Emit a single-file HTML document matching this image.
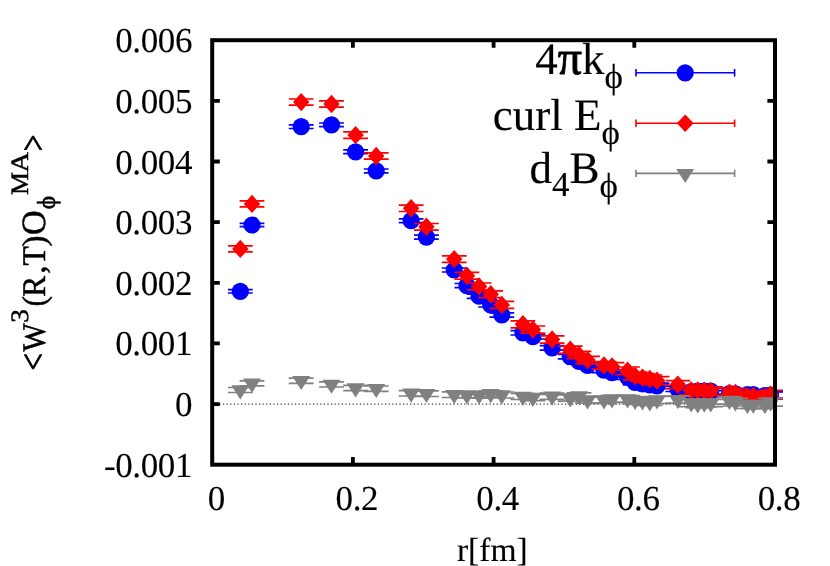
<!DOCTYPE html>
<html><head><meta charset="utf-8"><title>plot</title>
<style>html,body{margin:0;padding:0;background:#fff;}body{width:830px;height:566px;overflow:hidden;position:relative;font-family:"Liberation Serif",serif;}</style></head>
<body>
<svg width="830" height="566" viewBox="0 0 830 566" style="position:absolute;left:0;top:0;will-change:transform" font-family="'Liberation Serif', serif" fill="#000">
<style>text{text-rendering:geometricPrecision;stroke:#000;stroke-width:0.12px;stroke-linejoin:round}</style>
<rect width="830" height="566" fill="#fff"/>
<path d="M212.2 404.1H775.0" stroke="#000" stroke-width="1" stroke-dasharray="1.2 2.4" fill="none"/>
<path d="M352.9 464.7v-7.6M352.9 40.2v7.6M493.6 464.7v-7.6M493.6 40.2v7.6M634.3 464.7v-7.6M634.3 40.2v7.6M212.2 404.1h7.6M775.0 404.1h-7.6M212.2 343.4h7.6M775.0 343.4h-7.6M212.2 282.8h7.6M775.0 282.8h-7.6M212.2 222.1h7.6M775.0 222.1h-7.6M212.2 161.5h7.6M775.0 161.5h-7.6M212.2 100.8h7.6M775.0 100.8h-7.6" stroke="#000" stroke-width="3.8" fill="none"/>
<path d="M227.9 289.6H252.7M227.9 293.0H252.7M240.3 289.6V293.0" stroke="#0000ff" stroke-width="1.7" fill="none"/>
<circle cx="240.3" cy="291.3" r="8.6" fill="#0000ff"/>
<path d="M239.6 223.3H264.4M239.6 226.7H264.4M252.0 223.3V226.7" stroke="#0000ff" stroke-width="1.7" fill="none"/>
<circle cx="252.0" cy="225.0" r="8.6" fill="#0000ff"/>
<path d="M288.8 124.9H313.6M288.8 128.5H313.6M301.2 124.9V128.5" stroke="#0000ff" stroke-width="1.7" fill="none"/>
<circle cx="301.2" cy="126.7" r="8.6" fill="#0000ff"/>
<path d="M319.1 123.0H343.9M319.1 126.6H343.9M331.5 123.0V126.6" stroke="#0000ff" stroke-width="1.7" fill="none"/>
<circle cx="331.5" cy="124.8" r="8.6" fill="#0000ff"/>
<path d="M343.2 149.9H368.0M343.2 153.7H368.0M355.6 149.9V153.7" stroke="#0000ff" stroke-width="1.7" fill="none"/>
<circle cx="355.6" cy="151.8" r="8.6" fill="#0000ff"/>
<path d="M363.8 169.0H388.6M363.8 172.8H388.6M376.2 169.0V172.8" stroke="#0000ff" stroke-width="1.7" fill="none"/>
<circle cx="376.2" cy="170.9" r="8.6" fill="#0000ff"/>
<path d="M398.7 218.8H423.5M398.7 222.6H423.5M411.1 218.8V222.6" stroke="#0000ff" stroke-width="1.7" fill="none"/>
<circle cx="411.1" cy="220.7" r="8.6" fill="#0000ff"/>
<path d="M414.0 235.1H438.8M414.0 239.1H438.8M426.4 235.1V239.1" stroke="#0000ff" stroke-width="1.7" fill="none"/>
<circle cx="426.4" cy="237.1" r="8.6" fill="#0000ff"/>
<path d="M441.8 268.0H466.6M441.8 272.0H466.6M454.2 268.0V272.0" stroke="#0000ff" stroke-width="1.7" fill="none"/>
<circle cx="454.2" cy="270.0" r="8.6" fill="#0000ff"/>
<path d="M454.5 283.5H479.3M454.5 287.7H479.3M466.9 283.5V287.7" stroke="#0000ff" stroke-width="1.7" fill="none"/>
<circle cx="466.9" cy="285.6" r="8.6" fill="#0000ff"/>
<path d="M466.7 294.1H491.5M466.7 298.3H491.5M479.1 294.1V298.3" stroke="#0000ff" stroke-width="1.7" fill="none"/>
<circle cx="479.1" cy="296.2" r="8.6" fill="#0000ff"/>
<path d="M478.3 302.8H503.1M478.3 307.0H503.1M490.7 302.8V307.0" stroke="#0000ff" stroke-width="1.7" fill="none"/>
<circle cx="490.7" cy="304.9" r="8.6" fill="#0000ff"/>
<path d="M489.4 312.8H514.2M489.4 317.2H514.2M501.8 312.8V317.2" stroke="#0000ff" stroke-width="1.7" fill="none"/>
<circle cx="501.8" cy="315.0" r="8.6" fill="#0000ff"/>
<path d="M510.5 330.6H535.3M510.5 335.0H535.3M522.9 330.6V335.0" stroke="#0000ff" stroke-width="1.7" fill="none"/>
<circle cx="522.9" cy="332.8" r="8.6" fill="#0000ff"/>
<path d="M520.5 334.4H545.3M520.5 339.0H545.3M532.9 334.4V339.0" stroke="#0000ff" stroke-width="1.7" fill="none"/>
<circle cx="532.9" cy="336.7" r="8.6" fill="#0000ff"/>
<path d="M539.7 345.6H564.5M539.7 350.2H564.5M552.1 345.6V350.2" stroke="#0000ff" stroke-width="1.7" fill="none"/>
<circle cx="552.1" cy="347.9" r="8.6" fill="#0000ff"/>
<path d="M557.8 354.3H582.6M557.8 358.9H582.6M570.2 354.3V358.9" stroke="#0000ff" stroke-width="1.7" fill="none"/>
<circle cx="570.2" cy="356.6" r="8.6" fill="#0000ff"/>
<path d="M566.6 359.1H591.4M566.6 363.9H591.4M579.0 359.1V363.9" stroke="#0000ff" stroke-width="1.7" fill="none"/>
<circle cx="579.0" cy="361.5" r="8.6" fill="#0000ff"/>
<path d="M575.1 363.0H599.9M575.1 367.8H599.9M587.5 363.0V367.8" stroke="#0000ff" stroke-width="1.7" fill="none"/>
<circle cx="587.5" cy="365.4" r="8.6" fill="#0000ff"/>
<path d="M591.6 367.7H616.4M591.6 372.7H616.4M604.0 367.7V372.7" stroke="#0000ff" stroke-width="1.7" fill="none"/>
<circle cx="604.0" cy="370.2" r="8.6" fill="#0000ff"/>
<path d="M599.6 370.1H624.4M599.6 375.1H624.4M612.0 370.1V375.1" stroke="#0000ff" stroke-width="1.7" fill="none"/>
<circle cx="612.0" cy="372.6" r="8.6" fill="#0000ff"/>
<path d="M615.1 374.5H639.9M615.1 379.5H639.9M627.5 374.5V379.5" stroke="#0000ff" stroke-width="1.7" fill="none"/>
<circle cx="627.5" cy="377.0" r="8.6" fill="#0000ff"/>
<path d="M622.7 379.7H647.5M622.7 384.9H647.5M635.1 379.7V384.9" stroke="#0000ff" stroke-width="1.7" fill="none"/>
<circle cx="635.1" cy="382.3" r="8.6" fill="#0000ff"/>
<path d="M630.1 381.2H654.9M630.1 386.4H654.9M642.5 381.2V386.4" stroke="#0000ff" stroke-width="1.7" fill="none"/>
<circle cx="642.5" cy="383.8" r="8.6" fill="#0000ff"/>
<path d="M637.4 382.1H662.2M637.4 387.5H662.2M649.8 382.1V387.5" stroke="#0000ff" stroke-width="1.7" fill="none"/>
<circle cx="649.8" cy="384.8" r="8.6" fill="#0000ff"/>
<path d="M644.6 383.1H669.4M644.6 388.5H669.4M657.0 383.1V388.5" stroke="#0000ff" stroke-width="1.7" fill="none"/>
<circle cx="657.0" cy="385.8" r="8.6" fill="#0000ff"/>
<path d="M665.4 386.1H690.2M665.4 391.5H690.2M677.8 386.1V391.5" stroke="#0000ff" stroke-width="1.7" fill="none"/>
<circle cx="677.8" cy="388.8" r="8.6" fill="#0000ff"/>
<path d="M678.8 388.7H703.6M678.8 394.3H703.6M691.2 388.7V394.3" stroke="#0000ff" stroke-width="1.7" fill="none"/>
<circle cx="691.2" cy="391.5" r="8.6" fill="#0000ff"/>
<path d="M685.4 388.4H710.2M685.4 394.0H710.2M697.8 388.4V394.0" stroke="#0000ff" stroke-width="1.7" fill="none"/>
<circle cx="697.8" cy="391.2" r="8.6" fill="#0000ff"/>
<path d="M691.9 388.3H716.7M691.9 394.1H716.7M704.3 388.3V394.1" stroke="#0000ff" stroke-width="1.7" fill="none"/>
<circle cx="704.3" cy="391.2" r="8.6" fill="#0000ff"/>
<path d="M698.3 388.3H723.1M698.3 394.1H723.1M710.7 388.3V394.1" stroke="#0000ff" stroke-width="1.7" fill="none"/>
<circle cx="710.7" cy="391.2" r="8.6" fill="#0000ff"/>
<path d="M717.0 390.6H741.8M717.0 396.4H741.8M729.4 390.6V396.4" stroke="#0000ff" stroke-width="1.7" fill="none"/>
<circle cx="729.4" cy="393.5" r="8.6" fill="#0000ff"/>
<path d="M723.0 390.8H747.8M723.0 396.8H747.8M735.4 390.8V396.8" stroke="#0000ff" stroke-width="1.7" fill="none"/>
<circle cx="735.4" cy="393.8" r="8.6" fill="#0000ff"/>
<path d="M735.0 391.5H759.8M735.0 397.5H759.8M747.4 391.5V397.5" stroke="#0000ff" stroke-width="1.7" fill="none"/>
<circle cx="747.4" cy="394.5" r="8.6" fill="#0000ff"/>
<path d="M740.9 391.4H765.7M740.9 397.6H765.7M753.3 391.4V397.6" stroke="#0000ff" stroke-width="1.7" fill="none"/>
<circle cx="753.3" cy="394.5" r="8.6" fill="#0000ff"/>
<path d="M752.5 392.4H777.3M752.5 398.6H777.3M764.9 392.4V398.6" stroke="#0000ff" stroke-width="1.7" fill="none"/>
<circle cx="764.9" cy="395.5" r="8.6" fill="#0000ff"/>
<path d="M758.2 391.9H783.0M758.2 398.1H783.0M770.6 391.9V398.1" stroke="#0000ff" stroke-width="1.7" fill="none"/>
<circle cx="770.6" cy="395.0" r="8.6" fill="#0000ff"/>
<path d="M227.9 245.9H252.7M227.9 251.9H252.7M240.3 245.9V251.9" stroke="#ff0000" stroke-width="1.7" fill="none"/>
<path d="M232.1 248.9L240.3 239.7L248.5 248.9L240.3 258.1Z" fill="#ff0000"/>
<path d="M239.6 200.9H264.4M239.6 206.9H264.4M252.0 200.9V206.9" stroke="#ff0000" stroke-width="1.7" fill="none"/>
<path d="M243.8 203.9L252.0 194.7L260.2 203.9L252.0 213.1Z" fill="#ff0000"/>
<path d="M288.8 99.0H313.6M288.8 105.2H313.6M301.2 99.0V105.2" stroke="#ff0000" stroke-width="1.7" fill="none"/>
<path d="M293.0 102.1L301.2 92.9L309.4 102.1L301.2 111.3Z" fill="#ff0000"/>
<path d="M319.1 100.9H343.9M319.1 107.1H343.9M331.5 100.9V107.1" stroke="#ff0000" stroke-width="1.7" fill="none"/>
<path d="M323.3 104.0L331.5 94.8L339.7 104.0L331.5 113.2Z" fill="#ff0000"/>
<path d="M343.2 131.9H368.0M343.2 138.3H368.0M355.6 131.9V138.3" stroke="#ff0000" stroke-width="1.7" fill="none"/>
<path d="M347.4 135.1L355.6 125.9L363.8 135.1L355.6 144.3Z" fill="#ff0000"/>
<path d="M363.8 152.8H388.6M363.8 159.2H388.6M376.2 152.8V159.2" stroke="#ff0000" stroke-width="1.7" fill="none"/>
<path d="M368.0 156.0L376.2 146.8L384.4 156.0L376.2 165.2Z" fill="#ff0000"/>
<path d="M398.7 205.1H423.5M398.7 211.5H423.5M411.1 205.1V211.5" stroke="#ff0000" stroke-width="1.7" fill="none"/>
<path d="M402.9 208.3L411.1 199.1L419.3 208.3L411.1 217.5Z" fill="#ff0000"/>
<path d="M414.0 223.5H438.8M414.0 230.1H438.8M426.4 223.5V230.1" stroke="#ff0000" stroke-width="1.7" fill="none"/>
<path d="M418.2 226.8L426.4 217.6L434.6 226.8L426.4 236.0Z" fill="#ff0000"/>
<path d="M441.8 255.8H466.6M441.8 262.4H466.6M454.2 255.8V262.4" stroke="#ff0000" stroke-width="1.7" fill="none"/>
<path d="M446.0 259.1L454.2 249.9L462.4 259.1L454.2 268.3Z" fill="#ff0000"/>
<path d="M454.5 272.4H479.3M454.5 279.2H479.3M466.9 272.4V279.2" stroke="#ff0000" stroke-width="1.7" fill="none"/>
<path d="M458.7 275.8L466.9 266.6L475.1 275.8L466.9 285.0Z" fill="#ff0000"/>
<path d="M466.7 283.0H491.5M466.7 289.8H491.5M479.1 283.0V289.8" stroke="#ff0000" stroke-width="1.7" fill="none"/>
<path d="M470.9 286.4L479.1 277.2L487.3 286.4L479.1 295.6Z" fill="#ff0000"/>
<path d="M478.3 290.9H503.1M478.3 297.7H503.1M490.7 290.9V297.7" stroke="#ff0000" stroke-width="1.7" fill="none"/>
<path d="M482.5 294.3L490.7 285.1L498.9 294.3L490.7 303.5Z" fill="#ff0000"/>
<path d="M489.4 301.4H514.2M489.4 308.4H514.2M501.8 301.4V308.4" stroke="#ff0000" stroke-width="1.7" fill="none"/>
<path d="M493.6 304.9L501.8 295.7L510.0 304.9L501.8 314.1Z" fill="#ff0000"/>
<path d="M510.5 320.8H535.3M510.5 327.8H535.3M522.9 320.8V327.8" stroke="#ff0000" stroke-width="1.7" fill="none"/>
<path d="M514.7 324.3L522.9 315.1L531.1 324.3L522.9 333.5Z" fill="#ff0000"/>
<path d="M520.5 326.0H545.3M520.5 333.2H545.3M532.9 326.0V333.2" stroke="#ff0000" stroke-width="1.7" fill="none"/>
<path d="M524.7 329.6L532.9 320.4L541.1 329.6L532.9 338.8Z" fill="#ff0000"/>
<path d="M539.7 335.9H564.5M539.7 343.1H564.5M552.1 335.9V343.1" stroke="#ff0000" stroke-width="1.7" fill="none"/>
<path d="M543.9 339.5L552.1 330.3L560.3 339.5L552.1 348.7Z" fill="#ff0000"/>
<path d="M557.8 346.2H582.6M557.8 353.4H582.6M570.2 346.2V353.4" stroke="#ff0000" stroke-width="1.7" fill="none"/>
<path d="M562.0 349.8L570.2 340.6L578.4 349.8L570.2 359.0Z" fill="#ff0000"/>
<path d="M566.6 351.3H591.4M566.6 358.7H591.4M579.0 351.3V358.7" stroke="#ff0000" stroke-width="1.7" fill="none"/>
<path d="M570.8 355.0L579.0 345.8L587.2 355.0L579.0 364.2Z" fill="#ff0000"/>
<path d="M575.1 356.4H599.9M575.1 363.8H599.9M587.5 356.4V363.8" stroke="#ff0000" stroke-width="1.7" fill="none"/>
<path d="M579.3 360.1L587.5 350.9L595.7 360.1L587.5 369.3Z" fill="#ff0000"/>
<path d="M591.6 361.6H616.4M591.6 369.2H616.4M604.0 361.6V369.2" stroke="#ff0000" stroke-width="1.7" fill="none"/>
<path d="M595.8 365.4L604.0 356.2L612.2 365.4L604.0 374.6Z" fill="#ff0000"/>
<path d="M599.6 362.6H624.4M599.6 370.2H624.4M612.0 362.6V370.2" stroke="#ff0000" stroke-width="1.7" fill="none"/>
<path d="M603.8 366.4L612.0 357.2L620.2 366.4L612.0 375.6Z" fill="#ff0000"/>
<path d="M615.1 367.0H639.9M615.1 374.6H639.9M627.5 367.0V374.6" stroke="#ff0000" stroke-width="1.7" fill="none"/>
<path d="M619.3 370.8L627.5 361.6L635.7 370.8L627.5 380.0Z" fill="#ff0000"/>
<path d="M622.7 372.1H647.5M622.7 379.9H647.5M635.1 372.1V379.9" stroke="#ff0000" stroke-width="1.7" fill="none"/>
<path d="M626.9 376.0L635.1 366.8L643.3 376.0L635.1 385.2Z" fill="#ff0000"/>
<path d="M630.1 373.7H654.9M630.1 381.5H654.9M642.5 373.7V381.5" stroke="#ff0000" stroke-width="1.7" fill="none"/>
<path d="M634.3 377.6L642.5 368.4L650.7 377.6L642.5 386.8Z" fill="#ff0000"/>
<path d="M637.4 375.0H662.2M637.4 383.0H662.2M649.8 375.0V383.0" stroke="#ff0000" stroke-width="1.7" fill="none"/>
<path d="M641.6 379.0L649.8 369.8L658.0 379.0L649.8 388.2Z" fill="#ff0000"/>
<path d="M644.6 376.6H669.4M644.6 384.6H669.4M657.0 376.6V384.6" stroke="#ff0000" stroke-width="1.7" fill="none"/>
<path d="M648.8 380.6L657.0 371.4L665.2 380.6L657.0 389.8Z" fill="#ff0000"/>
<path d="M665.4 380.6H690.2M665.4 388.6H690.2M677.8 380.6V388.6" stroke="#ff0000" stroke-width="1.7" fill="none"/>
<path d="M669.6 384.6L677.8 375.4L686.0 384.6L677.8 393.8Z" fill="#ff0000"/>
<path d="M678.8 386.4H703.6M678.8 394.6H703.6M691.2 386.4V394.6" stroke="#ff0000" stroke-width="1.7" fill="none"/>
<path d="M683.0 390.5L691.2 381.3L699.4 390.5L691.2 399.7Z" fill="#ff0000"/>
<path d="M685.4 386.4H710.2M685.4 394.6H710.2M697.8 386.4V394.6" stroke="#ff0000" stroke-width="1.7" fill="none"/>
<path d="M689.6 390.5L697.8 381.3L706.0 390.5L697.8 399.7Z" fill="#ff0000"/>
<path d="M691.9 386.6H716.7M691.9 395.0H716.7M704.3 386.6V395.0" stroke="#ff0000" stroke-width="1.7" fill="none"/>
<path d="M696.1 390.8L704.3 381.6L712.5 390.8L704.3 400.0Z" fill="#ff0000"/>
<path d="M698.3 386.8H723.1M698.3 395.2H723.1M710.7 386.8V395.2" stroke="#ff0000" stroke-width="1.7" fill="none"/>
<path d="M702.5 391.0L710.7 381.8L718.9 391.0L710.7 400.2Z" fill="#ff0000"/>
<path d="M717.0 388.5H741.8M717.0 396.9H741.8M729.4 388.5V396.9" stroke="#ff0000" stroke-width="1.7" fill="none"/>
<path d="M721.2 392.7L729.4 383.5L737.6 392.7L729.4 401.9Z" fill="#ff0000"/>
<path d="M723.0 388.7H747.8M723.0 397.3H747.8M735.4 388.7V397.3" stroke="#ff0000" stroke-width="1.7" fill="none"/>
<path d="M727.2 393.0L735.4 383.8L743.6 393.0L735.4 402.2Z" fill="#ff0000"/>
<path d="M735.0 392.1H759.8M735.0 400.7H759.8M747.4 392.1V400.7" stroke="#ff0000" stroke-width="1.7" fill="none"/>
<path d="M739.2 396.4L747.4 387.2L755.6 396.4L747.4 405.6Z" fill="#ff0000"/>
<path d="M740.9 391.6H765.7M740.9 400.4H765.7M753.3 391.6V400.4" stroke="#ff0000" stroke-width="1.7" fill="none"/>
<path d="M745.1 396.0L753.3 386.8L761.5 396.0L753.3 405.2Z" fill="#ff0000"/>
<path d="M752.5 392.6H777.3M752.5 401.4H777.3M764.9 392.6V401.4" stroke="#ff0000" stroke-width="1.7" fill="none"/>
<path d="M756.7 397.0L764.9 387.8L773.1 397.0L764.9 406.2Z" fill="#ff0000"/>
<path d="M758.2 390.3H783.0M758.2 399.1H783.0M770.6 390.3V399.1" stroke="#ff0000" stroke-width="1.7" fill="none"/>
<path d="M762.4 394.7L770.6 385.5L778.8 394.7L770.6 403.9Z" fill="#ff0000"/>
<path d="M227.9 387.5H252.7M227.9 392.5H252.7M240.3 387.5V392.5" stroke="#808080" stroke-width="1.7" fill="none"/>
<path d="M231.3 385.3H249.3L240.3 399.4Z" fill="#808080"/>
<path d="M239.6 380.8H264.4M239.6 385.8H264.4M252.0 380.8V385.8" stroke="#808080" stroke-width="1.7" fill="none"/>
<path d="M243.0 378.6H261.0L252.0 392.7Z" fill="#808080"/>
<path d="M288.8 378.1H313.6M288.8 383.3H313.6M301.2 378.1V383.3" stroke="#808080" stroke-width="1.7" fill="none"/>
<path d="M292.2 376.0H310.2L301.2 390.1Z" fill="#808080"/>
<path d="M319.1 381.8H343.9M319.1 387.0H343.9M331.5 381.8V387.0" stroke="#808080" stroke-width="1.7" fill="none"/>
<path d="M322.5 379.7H340.5L331.5 393.8Z" fill="#808080"/>
<path d="M343.2 385.3H368.0M343.2 390.7H368.0M355.6 385.3V390.7" stroke="#808080" stroke-width="1.7" fill="none"/>
<path d="M346.6 383.3H364.6L355.6 397.4Z" fill="#808080"/>
<path d="M363.8 386.0H388.6M363.8 391.4H388.6M376.2 386.0V391.4" stroke="#808080" stroke-width="1.7" fill="none"/>
<path d="M367.2 384.0H385.2L376.2 398.1Z" fill="#808080"/>
<path d="M398.7 390.6H423.5M398.7 396.0H423.5M411.1 390.6V396.0" stroke="#808080" stroke-width="1.7" fill="none"/>
<path d="M402.1 388.6H420.1L411.1 402.7Z" fill="#808080"/>
<path d="M414.0 390.9H438.8M414.0 396.5H438.8M426.4 390.9V396.5" stroke="#808080" stroke-width="1.7" fill="none"/>
<path d="M417.4 389.0H435.4L426.4 403.1Z" fill="#808080"/>
<path d="M441.8 391.9H466.6M441.8 397.5H466.6M454.2 391.9V397.5" stroke="#808080" stroke-width="1.7" fill="none"/>
<path d="M445.2 390.0H463.2L454.2 404.1Z" fill="#808080"/>
<path d="M454.5 392.1H479.3M454.5 397.9H479.3M466.9 392.1V397.9" stroke="#808080" stroke-width="1.7" fill="none"/>
<path d="M457.9 390.3H475.9L466.9 404.4Z" fill="#808080"/>
<path d="M466.7 392.3H491.5M466.7 398.1H491.5M479.1 392.3V398.1" stroke="#808080" stroke-width="1.7" fill="none"/>
<path d="M470.1 390.5H488.1L479.1 404.6Z" fill="#808080"/>
<path d="M478.3 390.9H503.1M478.3 396.7H503.1M490.7 390.9V396.7" stroke="#808080" stroke-width="1.7" fill="none"/>
<path d="M481.7 389.1H499.7L490.7 403.2Z" fill="#808080"/>
<path d="M489.4 392.0H514.2M489.4 398.0H514.2M501.8 392.0V398.0" stroke="#808080" stroke-width="1.7" fill="none"/>
<path d="M492.8 390.3H510.8L501.8 404.4Z" fill="#808080"/>
<path d="M510.5 393.5H535.3M510.5 399.5H535.3M522.9 393.5V399.5" stroke="#808080" stroke-width="1.7" fill="none"/>
<path d="M513.9 391.8H531.9L522.9 405.9Z" fill="#808080"/>
<path d="M520.5 394.4H545.3M520.5 400.6H545.3M532.9 394.4V400.6" stroke="#808080" stroke-width="1.7" fill="none"/>
<path d="M523.9 392.8H541.9L532.9 406.9Z" fill="#808080"/>
<path d="M539.7 393.2H564.5M539.7 399.4H564.5M552.1 393.2V399.4" stroke="#808080" stroke-width="1.7" fill="none"/>
<path d="M543.1 391.6H561.1L552.1 405.7Z" fill="#808080"/>
<path d="M557.8 394.9H582.6M557.8 401.1H582.6M570.2 394.9V401.1" stroke="#808080" stroke-width="1.7" fill="none"/>
<path d="M561.2 393.3H579.2L570.2 407.4Z" fill="#808080"/>
<path d="M566.6 392.8H591.4M566.6 399.2H591.4M579.0 392.8V399.2" stroke="#808080" stroke-width="1.7" fill="none"/>
<path d="M570.0 391.3H588.0L579.0 405.4Z" fill="#808080"/>
<path d="M575.1 396.8H599.9M575.1 403.2H599.9M587.5 396.8V403.2" stroke="#808080" stroke-width="1.7" fill="none"/>
<path d="M578.5 395.3H596.5L587.5 409.4Z" fill="#808080"/>
<path d="M591.6 396.7H616.4M591.6 403.3H616.4M604.0 396.7V403.3" stroke="#808080" stroke-width="1.7" fill="none"/>
<path d="M595.0 395.3H613.0L604.0 409.4Z" fill="#808080"/>
<path d="M599.6 395.7H624.4M599.6 402.3H624.4M612.0 395.7V402.3" stroke="#808080" stroke-width="1.7" fill="none"/>
<path d="M603.0 394.3H621.0L612.0 408.4Z" fill="#808080"/>
<path d="M615.1 395.7H639.9M615.1 402.3H639.9M627.5 395.7V402.3" stroke="#808080" stroke-width="1.7" fill="none"/>
<path d="M618.5 394.3H636.5L627.5 408.4Z" fill="#808080"/>
<path d="M622.7 397.1H647.5M622.7 403.9H647.5M635.1 397.1V403.9" stroke="#808080" stroke-width="1.7" fill="none"/>
<path d="M626.1 395.8H644.1L635.1 409.9Z" fill="#808080"/>
<path d="M630.1 397.6H654.9M630.1 404.4H654.9M642.5 397.6V404.4" stroke="#808080" stroke-width="1.7" fill="none"/>
<path d="M633.5 396.3H651.5L642.5 410.4Z" fill="#808080"/>
<path d="M637.4 398.5H662.2M637.4 405.5H662.2M649.8 398.5V405.5" stroke="#808080" stroke-width="1.7" fill="none"/>
<path d="M640.8 397.3H658.8L649.8 411.4Z" fill="#808080"/>
<path d="M644.6 396.5H669.4M644.6 403.5H669.4M657.0 396.5V403.5" stroke="#808080" stroke-width="1.7" fill="none"/>
<path d="M648.0 395.3H666.0L657.0 409.4Z" fill="#808080"/>
<path d="M665.4 396.2H690.2M665.4 403.2H690.2M677.8 396.2V403.2" stroke="#808080" stroke-width="1.7" fill="none"/>
<path d="M668.8 395.0H686.8L677.8 409.1Z" fill="#808080"/>
<path d="M678.8 399.4H703.6M678.8 406.6H703.6M691.2 399.4V406.6" stroke="#808080" stroke-width="1.7" fill="none"/>
<path d="M682.2 398.3H700.2L691.2 412.4Z" fill="#808080"/>
<path d="M685.4 400.4H710.2M685.4 407.6H710.2M697.8 400.4V407.6" stroke="#808080" stroke-width="1.7" fill="none"/>
<path d="M688.8 399.3H706.8L697.8 413.4Z" fill="#808080"/>
<path d="M691.9 399.6H716.7M691.9 407.0H716.7M704.3 399.6V407.0" stroke="#808080" stroke-width="1.7" fill="none"/>
<path d="M695.3 398.6H713.3L704.3 412.7Z" fill="#808080"/>
<path d="M698.3 399.3H723.1M698.3 406.7H723.1M710.7 399.3V406.7" stroke="#808080" stroke-width="1.7" fill="none"/>
<path d="M701.7 398.3H719.7L710.7 412.4Z" fill="#808080"/>
<path d="M717.0 396.8H741.8M717.0 404.2H741.8M729.4 396.8V404.2" stroke="#808080" stroke-width="1.7" fill="none"/>
<path d="M720.4 395.8H738.4L729.4 409.9Z" fill="#808080"/>
<path d="M723.0 398.4H747.8M723.0 406.0H747.8M735.4 398.4V406.0" stroke="#808080" stroke-width="1.7" fill="none"/>
<path d="M726.4 397.5H744.4L735.4 411.6Z" fill="#808080"/>
<path d="M735.0 400.9H759.8M735.0 408.5H759.8M747.4 400.9V408.5" stroke="#808080" stroke-width="1.7" fill="none"/>
<path d="M738.4 400.0H756.4L747.4 414.1Z" fill="#808080"/>
<path d="M740.9 400.5H765.7M740.9 408.3H765.7M753.3 400.5V408.3" stroke="#808080" stroke-width="1.7" fill="none"/>
<path d="M744.3 399.7H762.3L753.3 413.8Z" fill="#808080"/>
<path d="M752.5 400.8H777.3M752.5 408.6H777.3M764.9 400.8V408.6" stroke="#808080" stroke-width="1.7" fill="none"/>
<path d="M755.9 400.0H773.9L764.9 414.1Z" fill="#808080"/>
<path d="M758.2 398.3H783.0M758.2 406.1H783.0M770.6 398.3V406.1" stroke="#808080" stroke-width="1.7" fill="none"/>
<path d="M761.6 397.5H779.6L770.6 411.6Z" fill="#808080"/>
<rect x="212.2" y="40.2" width="562.8" height="424.5" fill="none" stroke="#000" stroke-width="4"/>
<text x="192.0" y="476.7" font-size="35" letter-spacing="-0.4" text-anchor="end">-0.001</text>
<text x="192.0" y="416.1" font-size="35" letter-spacing="-0.4" text-anchor="end">0</text>
<text x="192.0" y="355.4" font-size="35" letter-spacing="-0.4" text-anchor="end">0.001</text>
<text x="192.0" y="294.8" font-size="35" letter-spacing="-0.4" text-anchor="end">0.002</text>
<text x="192.0" y="234.1" font-size="35" letter-spacing="-0.4" text-anchor="end">0.003</text>
<text x="192.0" y="173.5" font-size="35" letter-spacing="-0.4" text-anchor="end">0.004</text>
<text x="192.0" y="112.8" font-size="35" letter-spacing="-0.4" text-anchor="end">0.005</text>
<text x="192.0" y="52.2" font-size="35" letter-spacing="-0.4" text-anchor="end">0.006</text>
<text x="216.2" y="510.3" font-size="35" letter-spacing="-0.4" text-anchor="middle">0</text>
<text x="356.9" y="510.3" font-size="35" letter-spacing="-0.4" text-anchor="middle">0.2</text>
<text x="497.6" y="510.3" font-size="35" letter-spacing="-0.4" text-anchor="middle">0.4</text>
<text x="638.3" y="510.3" font-size="35" letter-spacing="-0.4" text-anchor="middle">0.6</text>
<text x="779.0" y="510.3" font-size="35" letter-spacing="-0.4" text-anchor="middle">0.8</text>
<text x="492.3" y="560.6" font-size="33.5" text-anchor="middle">r[fm]</text>
<text transform="translate(45.0,370.5) rotate(-90) scale(0.85,1)" font-size="36" style="stroke-width:0.9px">&lt;</text>
<text transform="translate(45.0,351.6) rotate(-90) scale(0.91,1)" font-size="33" style="stroke-width:0.5px">W</text>
<text transform="translate(28.2,322.8) rotate(-90) scale(1.08,1)" font-size="25" style="stroke-width:0.5px">3</text>
<text transform="translate(45.0,306.4) rotate(-90) scale(0.95,1)" font-size="33" style="stroke-width:0.5px">(</text>
<text transform="translate(45.0,296.7) rotate(-90) scale(0.95,1)" font-size="33" style="stroke-width:0.5px">R</text>
<text transform="translate(45.0,273.8) rotate(-90) scale(1.0,1)" font-size="33" style="stroke-width:0.5px">,</text>
<text transform="translate(45.0,265.4) rotate(-90) scale(0.96,1)" font-size="33" style="stroke-width:0.5px">T</text>
<text transform="translate(45.0,246.4) rotate(-90) scale(1.0,1)" font-size="33" style="stroke-width:0.5px">)</text>
<text transform="translate(45.0,235.1) rotate(-90) scale(1.0,1)" font-size="34" style="stroke-width:0.5px">O</text>
<text transform="translate(55.4,209.3) rotate(-90) scale(0.98,1)" font-size="26" style="stroke-width:0.5px">&#981;</text>
<text transform="translate(27.8,195.0) rotate(-90) scale(1.03,1)" font-size="25" style="stroke-width:0.5px">M</text>
<text transform="translate(27.8,172.3) rotate(-90) scale(1.12,1)" font-size="25" style="stroke-width:0.5px">A</text>
<text transform="translate(45.0,151.2) rotate(-90) scale(0.82,1)" font-size="36" style="stroke-width:0.9px">&gt;</text>
<text x="623" y="73.6" font-size="45" text-anchor="end">4<tspan font-size="48" style="stroke-width:0.9px">&#960;</tspan>k<tspan dy="14.5" font-size="35">&#981;</tspan></text>
<text x="620" y="129.5" font-size="45" text-anchor="end">curl E<tspan dy="14" font-size="35">&#981;</tspan></text>
<text x="618" y="182.6" font-size="45" text-anchor="end">d<tspan dy="13.5" font-size="35">4</tspan><tspan dy="-13.5">B</tspan><tspan dy="14.5" font-size="35">&#981;</tspan></text>
<path d="M636 72.8H734.6M636 69.1v7.4M734.6 69.1v7.4" stroke="#0000ff" stroke-width="1.6" fill="none"/><circle cx="685.2" cy="72.8" r="8.6" fill="#0000ff"/>
<path d="M636 123.3H734.6M636 119.6v7.4M734.6 119.6v7.4" stroke="#ff0000" stroke-width="1.6" fill="none"/><path d="M676.8000000000001 123.3L685.2 114.5L693.6 123.3L685.2 132.1Z" fill="#ff0000"/>
<path d="M636 173.4H734.6M636 169.70000000000002v7.4M734.6 169.70000000000002v7.4" stroke="#808080" stroke-width="1.6" fill="none"/><path d="M676.2 168.9H694.2L685.2 183.0Z" fill="#808080"/>
</svg>
</body></html>
